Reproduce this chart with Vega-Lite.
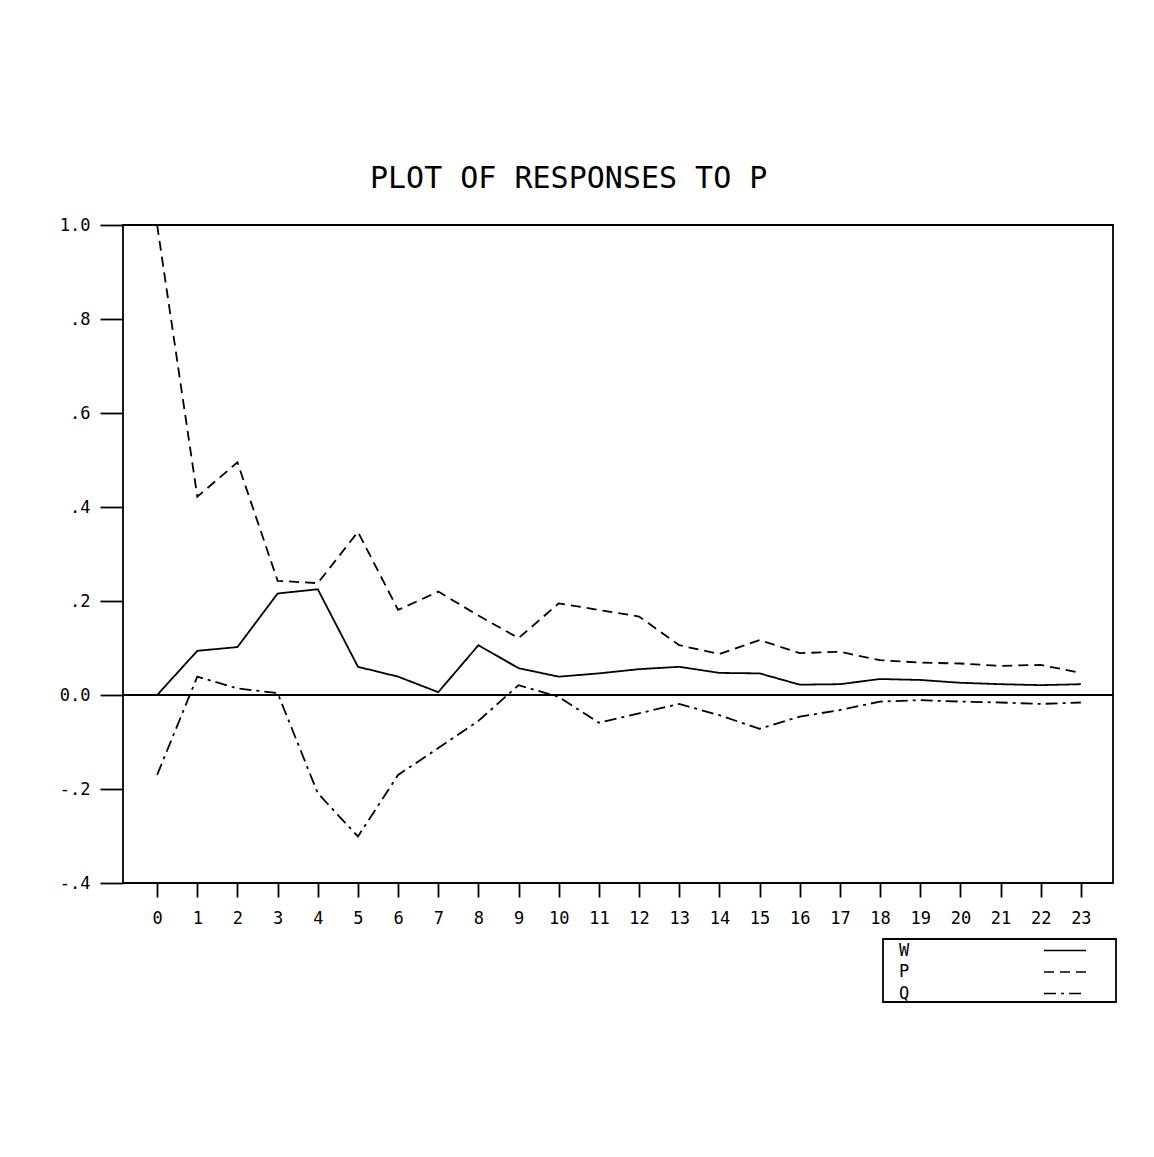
{
  "$schema": "https://vega.github.io/schema/vega-lite/v6.json",
  "autosize": {"type": "none"},
  "padding": {"left": 123, "top": 225, "right": 41, "bottom": 274},
  "width": 990,
  "height": 658,
  "background": "white",
  "config": {
    "view": {"stroke": "black", "strokeWidth": 1.8},
    "font": "DejaVu Sans Mono",
    "legend": {"strokeWidth": 1.8}
  },
  "title": {
    "text": "PLOT OF RESPONSES TO P",
    "anchor": "start",
    "frame": "group",
    "dx": 247,
    "offset": 22,
    "fontSize": 30,
    "fontWeight": "normal",
    "font": "DejaVu Sans Mono",
    "color": "black"
  },
  "data": {
    "values": [
      {"lag": 0, "series": "W", "value": 0.0},
      {"lag": 1, "series": "W", "value": 0.094},
      {"lag": 2, "series": "W", "value": 0.102},
      {"lag": 3, "series": "W", "value": 0.216},
      {"lag": 4, "series": "W", "value": 0.225},
      {"lag": 5, "series": "W", "value": 0.060},
      {"lag": 6, "series": "W", "value": 0.039},
      {"lag": 7, "series": "W", "value": 0.006},
      {"lag": 8, "series": "W", "value": 0.106},
      {"lag": 9, "series": "W", "value": 0.057},
      {"lag": 10, "series": "W", "value": 0.039},
      {"lag": 11, "series": "W", "value": 0.046},
      {"lag": 12, "series": "W", "value": 0.055},
      {"lag": 13, "series": "W", "value": 0.060},
      {"lag": 14, "series": "W", "value": 0.047},
      {"lag": 15, "series": "W", "value": 0.046},
      {"lag": 16, "series": "W", "value": 0.022},
      {"lag": 17, "series": "W", "value": 0.023},
      {"lag": 18, "series": "W", "value": 0.034},
      {"lag": 19, "series": "W", "value": 0.032},
      {"lag": 20, "series": "W", "value": 0.026},
      {"lag": 21, "series": "W", "value": 0.023},
      {"lag": 22, "series": "W", "value": 0.021},
      {"lag": 23, "series": "W", "value": 0.023},
      {"lag": 0, "series": "P", "value": 1.0},
      {"lag": 1, "series": "P", "value": 0.422},
      {"lag": 2, "series": "P", "value": 0.495},
      {"lag": 3, "series": "P", "value": 0.243},
      {"lag": 4, "series": "P", "value": 0.238},
      {"lag": 5, "series": "P", "value": 0.347},
      {"lag": 6, "series": "P", "value": 0.181},
      {"lag": 7, "series": "P", "value": 0.220},
      {"lag": 8, "series": "P", "value": 0.169},
      {"lag": 9, "series": "P", "value": 0.121},
      {"lag": 10, "series": "P", "value": 0.195},
      {"lag": 11, "series": "P", "value": 0.181},
      {"lag": 12, "series": "P", "value": 0.167},
      {"lag": 13, "series": "P", "value": 0.106},
      {"lag": 14, "series": "P", "value": 0.087},
      {"lag": 15, "series": "P", "value": 0.117},
      {"lag": 16, "series": "P", "value": 0.089},
      {"lag": 17, "series": "P", "value": 0.092},
      {"lag": 18, "series": "P", "value": 0.074},
      {"lag": 19, "series": "P", "value": 0.069},
      {"lag": 20, "series": "P", "value": 0.067},
      {"lag": 21, "series": "P", "value": 0.062},
      {"lag": 22, "series": "P", "value": 0.064},
      {"lag": 23, "series": "P", "value": 0.047},
      {"lag": 0, "series": "Q", "value": -0.170},
      {"lag": 1, "series": "Q", "value": 0.039},
      {"lag": 2, "series": "Q", "value": 0.014},
      {"lag": 3, "series": "Q", "value": 0.004},
      {"lag": 4, "series": "Q", "value": -0.209},
      {"lag": 5, "series": "Q", "value": -0.301},
      {"lag": 6, "series": "Q", "value": -0.170},
      {"lag": 7, "series": "Q", "value": -0.113},
      {"lag": 8, "series": "Q", "value": -0.055},
      {"lag": 9, "series": "Q", "value": 0.021},
      {"lag": 10, "series": "Q", "value": -0.004},
      {"lag": 11, "series": "Q", "value": -0.059},
      {"lag": 12, "series": "Q", "value": -0.039},
      {"lag": 13, "series": "Q", "value": -0.019},
      {"lag": 14, "series": "Q", "value": -0.043},
      {"lag": 15, "series": "Q", "value": -0.072},
      {"lag": 16, "series": "Q", "value": -0.046},
      {"lag": 17, "series": "Q", "value": -0.032},
      {"lag": 18, "series": "Q", "value": -0.014},
      {"lag": 19, "series": "Q", "value": -0.011},
      {"lag": 20, "series": "Q", "value": -0.014},
      {"lag": 21, "series": "Q", "value": -0.016},
      {"lag": 22, "series": "Q", "value": -0.019},
      {"lag": 23, "series": "Q", "value": -0.016}
    ]
  },
  "layer": [
    {
      "mark": {"type": "rule", "color": "black", "strokeWidth": 1.8},
      "encoding": {
        "y": {"datum": 0, "type": "quantitative"}
      }
    },
    {
      "mark": {"type": "line", "color": "black", "strokeWidth": 1.8},
      "encoding": {
        "x": {
          "field": "lag",
          "type": "quantitative",
          "scale": {"domain": [-0.85, 23.8], "nice": false, "zero": false},
          "axis": {
            "title": null,
            "values": [0,1,2,3,4,5,6,7,8,9,10,11,12,13,14,15,16,17,18,19,20,21,22,23],
            "format": "d",
            "domain": false,
            "grid": false,
            "tickSize": 14,
            "tickWidth": 1.8,
            "tickColor": "black",
            "labelFontSize": 17,
            "labelColor": "black",
            "labelPadding": 13,
            "labelFlush": false,
            "labelOverlap": false
          }
        },
        "y": {
          "field": "value",
          "type": "quantitative",
          "scale": {"domain": [-0.4, 1.0], "nice": false},
          "axis": {
            "title": null,
            "values": [-0.4, -0.2, 0, 0.2, 0.4, 0.6, 0.8, 1.0],
            "labelExpr": "datum.value >= 0.99 ? '1.0' : datum.value >= 0.79 ? '.8' : datum.value >= 0.59 ? '.6' : datum.value >= 0.39 ? '.4' : datum.value >= 0.19 ? '.2' : datum.value >= -0.01 ? '0.0' : datum.value >= -0.21 ? '-.2' : '-.4'",
            "domain": false,
            "grid": false,
            "tickSize": 23,
            "tickWidth": 1.8,
            "tickColor": "black",
            "labelFontSize": 17,
            "labelColor": "black",
            "labelPadding": 10,
            "labelFlush": false,
            "labelOverlap": false
          }
        },
        "strokeDash": {
          "field": "series",
          "type": "nominal",
          "scale": {"domain": ["W", "P", "Q"], "range": [[1, 0], [10, 6], [12, 5, 3, 5]]},
          "legend": {
            "orient": "none",
            "legendX": 760,
            "legendY": 714,
            "title": null,
            "strokeColor": "black",
            "padding": 0,
            "symbolType": "M-2,0H2M4.5,0",
            "symbolSize": 441,
            "symbolStrokeWidth": 1.5,
            "symbolStrokeColor": "black",
            "symbolOffset": 170.5,
            "labelFont": "DejaVu Sans Mono",
            "labelFontSize": 17,
            "labelColor": "black",
            "labelOffset": -177.5,
            "rowPadding": 1.5
          }
        }
      }
    }
  ]
}
